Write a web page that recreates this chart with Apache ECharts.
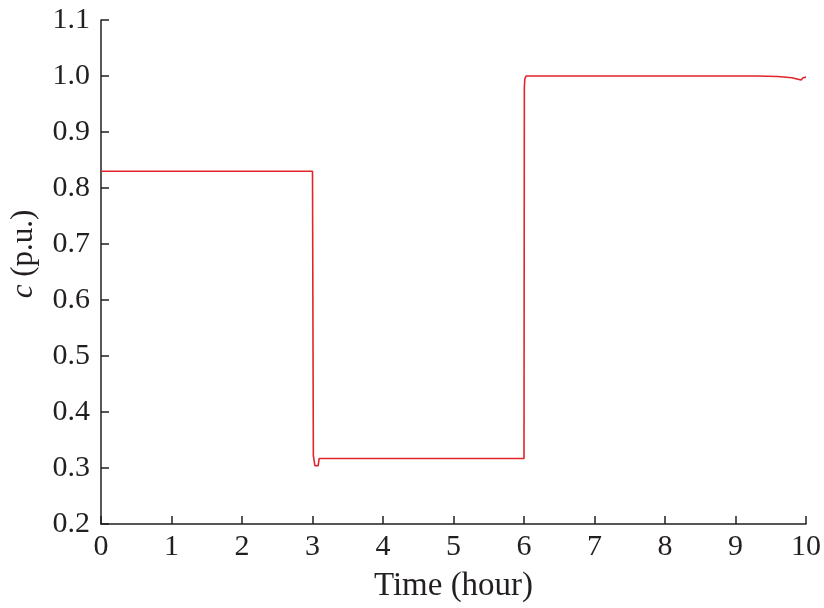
<!DOCTYPE html>
<html>
<head>
<meta charset="utf-8">
<script src="https://cdn.jsdelivr.net/npm/echarts@6/dist/echarts.min.js"></script>
<style>html,body{margin:0;padding:0;background:#fff}#c{width:824px;height:608px}</style>
</head>
<body>
<div id="c"></div>
<script>
var times  = [0, 3.0, 3.012, 3.035, 3.08, 3.095, 6.0, 6.005, 6.012, 6.03, 9.3, 9.6, 9.8, 9.93, 9.96, 10];
var values = [0.83, 0.83, 0.322, 0.304, 0.304, 0.317, 0.317, 0.98, 0.995, 1.0, 1.0, 0.999, 0.997, 0.993, 0.997, 0.998];
var xTicks = [0, 1, 2, 3, 4, 5, 6, 7, 8, 9, 10];
var yTicks = [0.2, 0.3, 0.4, 0.5, 0.6, 0.7, 0.8, 0.9, 1.0, 1.1];
var xName = 'Time (hour)';
var yNameItalic = 'c';
var yNameRest = ' (p.u.)';

var data = times.map(function (t, i) { return [t, values[i]]; });
var font = 'Liberation Serif';
var axisColor = '#231f20';
var chart = echarts.init(document.getElementById('c'));
chart.setOption({
  animation: false,
  backgroundColor: '#fff',
  grid: { left: 98, right: 17, top: 20, bottom: 83, containLabel: false },
  xAxis: {
    type: 'value', min: xTicks[0], max: xTicks[xTicks.length - 1], interval: 1,
    name: xName, nameLocation: 'middle', nameGap: 46,
    nameTextStyle: { fontFamily: font, fontSize: 33, color: '#231f20' },
    axisLine: { show: true, lineStyle: { color: axisColor, width: 1.5 } },
    axisTick: { show: true, inside: true, length: 8, lineStyle: { color: axisColor, width: 1.5 } },
    axisLabel: { margin: 8, fontFamily: font, fontSize: 30, color: '#231f20' },
    splitLine: { show: false }
  },
  yAxis: {
    type: 'value', min: yTicks[0], max: yTicks[yTicks.length - 1], interval: 0.1,
    name: '{i|' + yNameItalic + '}{n|' + yNameRest + '}', nameLocation: 'middle', nameRotate: 90, nameGap: 62,
    nameTextStyle: {
      fontFamily: font, fontSize: 31, color: '#231f20', padding: [0, 0, 0, 36],
      rich: {
        i: { fontFamily: font, fontSize: 31, fontStyle: 'italic', color: '#231f20' },
        n: { fontFamily: font, fontSize: 31, color: '#231f20' }
      }
    },
    axisLine: { show: true, lineStyle: { color: axisColor, width: 1.5 } },
    axisTick: { show: true, inside: true, length: 8, lineStyle: { color: axisColor, width: 1.5 } },
    axisLabel: { margin: 11, fontFamily: font, fontSize: 30, color: '#231f20',
      formatter: function (v) { return v.toFixed(1); } },
    splitLine: { show: false }
  },
  series: [{
    type: 'line', data: data, showSymbol: false, symbol: 'none',
    lineStyle: { color: '#e0252b', width: 1.6 }
  }]
});
</script>
</body>
</html>
